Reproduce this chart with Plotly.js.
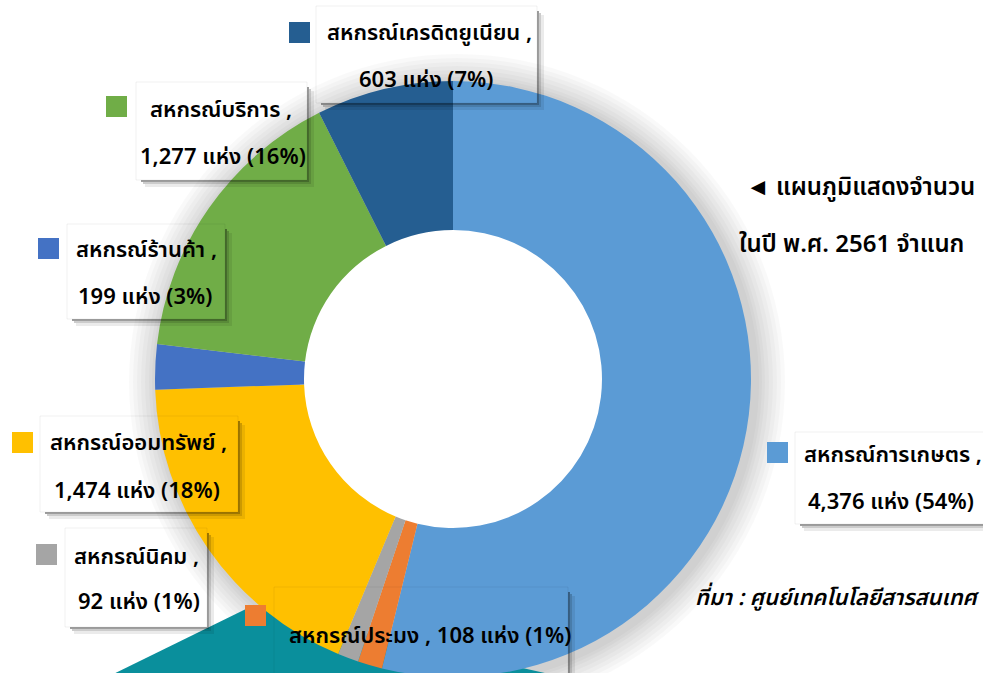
<!DOCTYPE html>
<html>
<head>
<meta charset="utf-8">
<script src="https://cdn.plot.ly/plotly-3.0.1.min.js"></script>
<style>
html,body{margin:0;padding:0;background:#fff;overflow:hidden;}
#chart{width:983px;height:700px;}
</style>
</head>
<body>
<div id="chart"></div>
<script>
// ---- data ----
const categories = ['สหกรณ์การเกษตร','สหกรณ์ประมง','สหกรณ์นิคม','สหกรณ์ออมทรัพย์','สหกรณ์ร้านค้า','สหกรณ์บริการ','สหกรณ์เครดิตยูเนียน'];
const counts = [4376, 108, 92, 1474, 199, 1277, 603];
const percentLabels = ['54%', '1%', '1%', '18%', '3%', '16%', '7%'];
const colors = ['#5B9BD5', '#ED7D31', '#A5A5A5', '#FFC000', '#4472C4', '#70AD47', '#255E91'];
const titleLines = ['◄ แผนภูมิแสดงจำนวน', 'ในปี พ.ศ. 2561 จำแนก'];
const sourceText = 'ที่มา : ศูนย์เทคโนโลยีสารสนเทศ';

// ---- layout helpers ----
const W = 983, H = 700;
const px = x => x / W;
const py = y => 1 - y / H;
const FONT = "'Noto Sans Thai', 'Noto Sans', sans-serif";
const FS = 22;
const WT = 600;

// label placement: marker [x0,y0], line1 left x / y, line2 centre x / y, box [L,T,R,B]
const place = [
  {m:[767,442], l1:[802,455], l2:[891,502], box:[795,432,995,524], single:false},
  {m:[245,605], l1:[287,636], l2:null, box:[274,587,568,690], single:true},
  {m:[36,544],  l1:[72,557],  l2:[139,602], box:[65,528,207,627], single:false},
  {m:[12,432],  l1:[48,444],  l2:[137,491], box:[40,416,238,512], single:false},
  {m:[38,238],  l1:[74,250],  l2:[145,297], box:[67,224,225,319], single:false},
  {m:[106,96],  l1:[148,110], l2:[223,157], box:[136,82,307,180], single:false},
  {m:[289,22],  l1:[325,33],  l2:[426,80],  box:[316,6,537,103], single:false}
];

const shapes = [];
const annotations = [];

// soft shadow around the donut
const cx = 453, cy = 379, R = 298, HOLE = 0.5;
[30,26,22,18,14,10,7,4].forEach(d => {
  shapes.push({type:'circle', xref:'paper', yref:'paper', layer:'below',
    x0:px(cx+4-R-d), x1:px(cx+4+R+d), y0:py(cy+3+R+d), y1:py(cy+3-R-d),
    fillcolor:'rgba(0,0,0,0.022)', line:{width:0}});
});
// white donut hole background
shapes.push({type:'circle', xref:'paper', yref:'paper', layer:'below',
  x0:px(cx-R*HOLE-4), x1:px(cx+R*HOLE+4), y0:py(cy+R*HOLE+4), y1:py(cy-R*HOLE-4),
  fillcolor:'#ffffff', line:{width:0}});
// teal decoration
shapes.push({type:'path', xref:'paper', yref:'paper', layer:'below',
  path:`M ${px(40)} ${py(710)} L ${px(250)} ${py(607)} L ${px(710)} ${py(710)} Z`,
  fillcolor:'#0A8F9C', line:{width:0}});

function fmt(n){ return n.toString().replace(/\B(?=(\d{3})+(?!\d))/g, ','); }
const tfont = (s) => ({family:FONT, size:s, color:'#000', weight:WT});

categories.forEach((cat, i) => {
  const p = place[i];
  const [L,T,Rr,B] = p.box;
  shapes.push({type:'rect', xref:'paper', yref:'paper', layer:'above',
    x0:px(L), x1:px(Rr), y0:py(B), y1:py(T), line:{color:'rgba(0,0,0,0.06)', width:1}, fillcolor:'rgba(0,0,0,0)'});
  [[0,2,0.38],[2,4,0.2],[4,7,0.08]].forEach(([a,b,o]) => {
    shapes.push({type:'rect', xref:'paper', yref:'paper', layer:'above',
      x0:px(Rr+a), x1:px(Rr+b), y0:py(B+b), y1:py(T+5+a), fillcolor:'rgba(0,0,0,'+o+')', line:{width:0}});
    shapes.push({type:'rect', xref:'paper', yref:'paper', layer:'above',
      x0:px(L+5+a), x1:px(Rr+a), y0:py(B+b), y1:py(B+a), fillcolor:'rgba(0,0,0,'+o+')', line:{width:0}});
  });
  shapes.push({type:'rect', xref:'paper', yref:'paper', layer:'above',
    x0:px(p.m[0]), x1:px(p.m[0]+21), y0:py(p.m[1]+21), y1:py(p.m[1]),
    fillcolor:colors[i], line:{width:0}});
  const line2 = fmt(counts[i]) + ' แห่ง (' + percentLabels[i] + ')';
  if (p.single) {
    annotations.push({xref:'paper', yref:'paper', x:px(p.l1[0]), y:py(p.l1[1]), xanchor:'left', yanchor:'middle',
      text: cat + ' , ' + line2, showarrow:false, font:tfont(FS)});
  } else {
    annotations.push({xref:'paper', yref:'paper', x:px(p.l1[0]), y:py(p.l1[1]), xanchor:'left', yanchor:'middle',
      text: cat + ' ,', showarrow:false, font:tfont(FS)});
    annotations.push({xref:'paper', yref:'paper', x:px(p.l2[0]), y:py(p.l2[1]), xanchor:'center', yanchor:'middle',
      text: line2, showarrow:false, font:tfont(FS)});
  }
});

// title & source
annotations.push({xref:'paper', yref:'paper', x:px(744), y:py(188), xanchor:'left', yanchor:'middle',
  text:titleLines[0], showarrow:false, font:tfont(24)});
annotations.push({xref:'paper', yref:'paper', x:px(737), y:py(245), xanchor:'left', yanchor:'middle',
  text:titleLines[1], showarrow:false, font:tfont(24)});
annotations.push({xref:'paper', yref:'paper', x:px(693), y:py(598), xanchor:'left', yanchor:'middle',
  text:'<i>' + sourceText + '</i>', showarrow:false, font:tfont(FS)});

const trace = {
  type:'pie', values:counts, labels:categories, sort:false, direction:'clockwise', rotation:0,
  hole:HOLE, textinfo:'none', hoverinfo:'label+value+percent',
  marker:{colors:colors, line:{width:0}},
  domain:{x:[px(cx-R), px(cx+R)], y:[py(cy+R), py(cy-R)]}
};

Plotly.newPlot('chart', [trace], {
  width:W, height:H, margin:{l:0,r:0,t:0,b:0}, showlegend:false,
  paper_bgcolor:'#ffffff', plot_bgcolor:'#ffffff',
  shapes:shapes, annotations:annotations
}, {staticPlot:true});
</script>
</body>
</html>
